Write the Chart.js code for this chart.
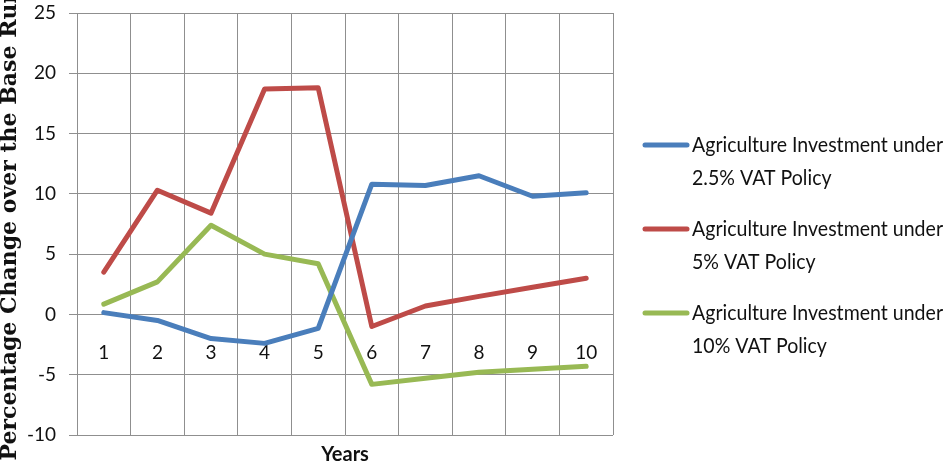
<!DOCTYPE html>
<html>
<head>
<meta charset="utf-8">
<script src="https://cdn.jsdelivr.net/npm/chart.js@4"></script>
<style>
  html, body { margin: 0; padding: 0; background: #fff; overflow: hidden; }
  #wrap { width: 945px; height: 467px; }
</style>
</head>
<body>
<div id="wrap"><canvas id="chart" width="945" height="467"></canvas></div>
<script>
// Years on the x axis
const years = ['1', '2', '3', '4', '5', '6', '7', '8', '9', '10'];

// % change over the base run
const vat25 = [0.15, -0.5, -2.0, -2.4, -1.15, 10.8, 10.7, 11.5, 9.8, 10.1];
const vat5 = [3.5, 10.3, 8.4, 18.7, 18.8, -1.0, 0.7, 1.5, 2.25, 3.0];
const vat10 = [0.85, 2.7, 7.4, 5.0, 4.2, -5.8, -5.3, -4.8, -4.55, -4.3];

const seriesLabels = [
    ['Agriculture Investment under', '2.5% VAT Policy'],
    ['Agriculture Investment under', '5% VAT Policy'],
    ['Agriculture Investment under', '10% VAT Policy']
];
const seriesColors = ['#4a7ebb', '#be4b48', '#98b954'];

// y axis range
const yMin = -10, yMax = 25, yStep = 5;

const gridColor = '#8f8f8f';

Chart.defaults.font.family = 'Lato';
Chart.defaults.color = '#111';

// two-line legend on the right, built from the datasets
// (text squeezed a bit sideways, the source used a narrow font)
const sideLegend = {
    id: 'sideLegend',
    afterDraw(chart) {
        const { ctx, chartArea } = chart;
        const textX = chartArea.right + 79;
        ctx.save();
        ctx.font = '21px Lato';
        ctx.fillStyle = '#111';
        ctx.textBaseline = 'middle';
        ctx.textAlign = 'left';
        const widest = Math.max(...chart.data.datasets.flatMap(ds => ds.label.map(t => ctx.measureText(t).width)));
        const sx = Math.min(1, 251 / widest);
        chart.data.datasets.forEach((ds, i) => {
            const y = chartArea.top + 132 + i * 84;
            ctx.strokeStyle = ds.borderColor;
            ctx.lineWidth = 5;
            ctx.lineCap = 'round';
            ctx.beginPath();
            ctx.moveTo(chartArea.right + 32, y);
            ctx.lineTo(chartArea.right + 74, y);
            ctx.stroke();
            ds.label.forEach((t, j) => {
                ctx.save();
                ctx.translate(textX, y + j * 33);
                ctx.scale(sx, 1);
                ctx.fillText(t, 0, 0);
                ctx.restore();
            });
        });
        ctx.restore();
    }
};

const makeSet = (data, i) => ({
    label: seriesLabels[i],
    data: data,
    borderColor: seriesColors[i],
    backgroundColor: seriesColors[i],
    borderWidth: 5,
    pointRadius: 0,
    tension: 0,
    borderJoinStyle: 'round',
    borderCapStyle: 'round',
    xAxisID: 'x'
});

new Chart(document.getElementById('chart'), {
    type: 'line',
    data: {
        labels: years,
        datasets: [makeSet(vat25, 0), makeSet(vat5, 1), makeSet(vat10, 2)]
    },
    options: {
        responsive: false,
        animation: false,
        layout: { padding: { left: 0, right: 332, top: 13, bottom: 0 } },
        plugins: { legend: { display: false }, tooltip: { enabled: false } },
        scales: {
            x: {
                type: 'category',
                position: { y: 0 },
                offset: true,
                afterFit: s => { s.height = 0; },
                grid: { color: gridColor, offset: true, tickLength: 0 },
                border: { color: gridColor },
                ticks: { font: { size: 19 }, color: '#111', padding: 27, maxRotation: 0, autoSkip: false }
            },
            x2: {
                type: 'category',
                position: 'bottom',
                labels: years,
                afterFit: s => { s.height = 32; },
                grid: { display: false, drawTicks: false },
                border: { display: false },
                ticks: { display: false },
                title: {
                    display: true,
                    text: 'Years',
                    font: { size: 20, weight: 'bold' },
                    color: '#111',
                    padding: { top: 8, bottom: 0 }
                }
            },
            y: {
                min: yMin,
                max: yMax,
                afterFit: s => { s.width = 77; s.paddingTop = 0; s.paddingBottom = 0; },
                grid: { color: gridColor, tickLength: 8 },
                border: { color: gridColor },
                ticks: { stepSize: yStep, font: { size: 19 }, color: '#111', padding: 13 },
                title: {
                    display: true,
                    text: 'Percentage Change over the Base Run',
                    font: { family: 'DejaVu Serif', size: 22, weight: 'bold', lineHeight: 0.95 },
                    color: '#111',
                    padding: 0
                }
            }
        }
    },
    plugins: [sideLegend]
});
</script>
</body>
</html>
